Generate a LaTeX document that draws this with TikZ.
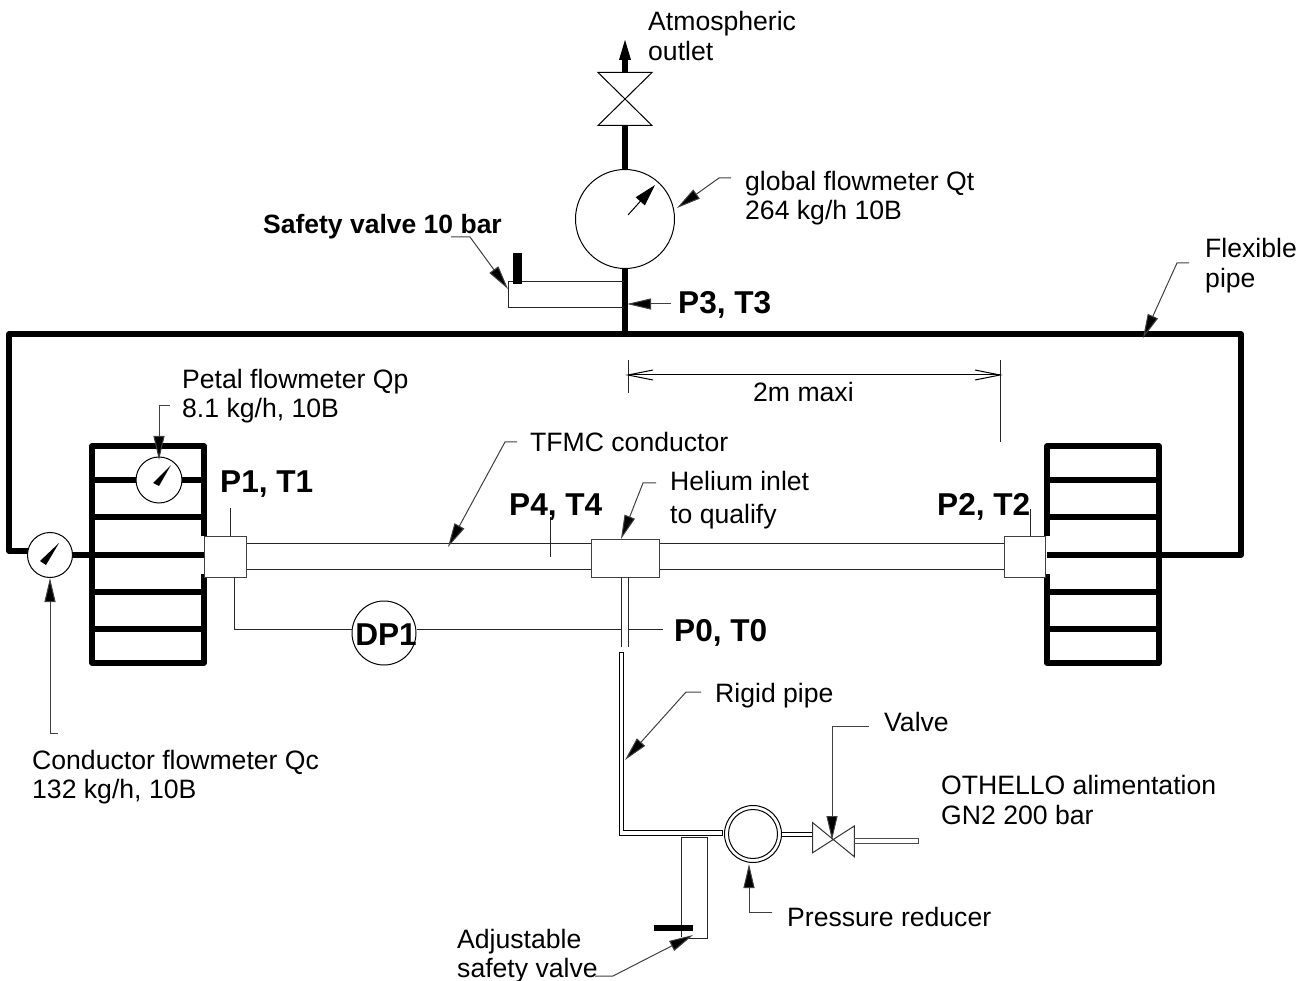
\documentclass[tikz,border=0pt]{standalone}
\usepackage{fontspec}
\setmainfont{Liberation Sans}
\usetikzlibrary{arrows.meta}
\tikzset{
  x=1pt,y=-1pt,
  thin line/.style={line width=1pt,black!85},
  thick pipe/.style={line width=5.4pt,black,line cap=butt,line join=round},
  leader/.style={line width=1pt,black!75,-{Triangle[length=24pt,width=11pt,fill=black]}},
  label/.style={inner sep=0pt,anchor=base west,align=left,yshift=-1pt,font=\fontsize{26.6}{30}\selectfont},
  boldlabel/.style={inner sep=0pt,anchor=base west,yshift=-1pt,font=\fontsize{31.6}{34}\selectfont\bfseries},
  instr/.style={circle,draw,line width=1pt,fill=white,inner sep=0pt,minimum size=#1},
  boxpart/.style={draw,line width=1pt,black!75,fill=white},
  needle/.style={fill=black,draw=none}
}
\begin{document}
\begin{tikzpicture}
\useasboundingbox (0,0) rectangle (1310,981);
% flexible pipe
\coordinate (pTL) at (9,334); \coordinate (pTR) at (1241,334);
\coordinate (pLb) at (9,551); \coordinate (pRb) at (1241,555);
\draw[thick pipe] (28,551) -- (pLb) -- (pTL) -- (pTR) -- (pRb) -- (1160,555);
% petal stacks
\draw[thick pipe] (204,536) -- (204,446) -- (92,446) -- (92,663) -- (204,663) -- (204,574);
\foreach \y in {480,517,555,592,629} \draw[thick pipe] (92,\y) -- (204,\y);
\draw[thick pipe] (72,555) -- (92,555);
\draw[thick pipe] (1047,536) -- (1047,446) -- (1159,446) -- (1159,663) -- (1047,663) -- (1047,574);
\foreach \y in {480,517,555,592,629} \draw[thick pipe] (1047,\y) -- (1159,\y);
% conductor
\draw[thin line] (246,543) -- (1004,543) (246,569) -- (1004,569);
\node[boxpart,minimum width=42pt,minimum height=41pt,inner sep=0pt] (boxL) at (225,556.5) {};
\node[boxpart,minimum width=68pt,minimum height=38pt,inner sep=0pt] (boxM) at (625,558) {};
\node[boxpart,minimum width=41pt,minimum height=41pt,inner sep=0pt] (boxR) at (1024.5,556.5) {};
% stem and DP line
\draw[thin line] (621,577) -- (621,647) (628,577) -- (628,647);
\node[instr=64pt] (dp) at (384,633) {};
\node[boldlabel,anchor=center] (dpt) at (386,634) {DP1};
\draw[thin line] (234,577) -- (234,629) -- (dp.west |- 0,629);
\draw[thin line] (dp.east |- 0,629) -- (621,629) (628,629) -- (663,629);
% ticks
\draw[thin line] (230,508) -- (230,536);
\draw[thin line] (1030,509) -- (1030,536);
\draw[thin line] (550,517) -- (550,557);
% flowmeters
\node[instr=45pt] (fc) at (50,555) {};
\fill[needle] (59,543) -- (40,561) -- (46,565) -- cycle;
\node[instr=46pt] (fp) at (159,480) {};
\fill[needle] (171,465) -- (153,483) -- (159,486) -- cycle;
% top line
\draw[thick pipe] (625,334) -- (625,267);
\draw[thick pipe] (625,170) -- (625,126);
\draw[thick pipe,-{Triangle[length=24pt,width=10pt]}] (625,72) -- (625,36);
\draw[line width=1pt] (598,72.5) -- (652,72.5) -- (598,125.5) -- (652,125.5) -- cycle;
\node[instr=99pt] (fg) at (625,219) {};
\draw[line width=1pt,-{Triangle[length=22pt,width=12pt]}] (628,215) -- (655,185);
% safety valve 10 bar
\draw[thin line] (624,282) -- (508,282) -- (508,308) -- (624,308);
\fill[black] (513,253) rectangle (522,284);
% rigid pipe
\draw[line width=1pt] (619.5,652) -- (619.5,835) -- (722.5,835) -- (722.5,830.5) -- (623,830.5) -- (623,652) -- cycle;
\node[instr=57pt] (pr) at (753,834) {};
\node[instr=49pt] (pri) at (753,834) {};
\draw[line width=1pt] (781,832) -- (813,832) (781,836) -- (813,836);
\draw[line width=1pt,black!80] (812.7,822.7) -- (812.7,852.7) -- (854.3,826) -- (854.3,856.7) -- cycle;
\draw[line width=1pt,black!70] (854,838.5) -- (918,838.5) -- (918,843.5) -- (854,843.5);
% adjustable safety valve
\draw[thin line] (681.7,937) -- (681.7,837) -- (707.3,837) -- (707.3,938) -- (688,938);
\fill[black] (654,924.5) rectangle (693,930.5);
% dimension
\coordinate (d1) at (628,375); \coordinate (d2) at (1000,375);
\draw[thin line] (628,360) -- (628,393);
\draw[thin line] (1000,360) -- (1000,442);
\draw[line width=1pt] (d1) -- (d2);
\draw[line width=1pt] ([shift={(25,-5)}]d1) -- (d1) -- ([shift={(25,5)}]d1);
\draw[line width=1pt] ([shift={(-25,-5)}]d2) -- (d2) -- ([shift={(-25,5)}]d2);
% labels
\node[label] (tAtm) at (648,30) {Atmospheric};
\node[label] at (648,60) {outlet};
\node[label] (tGlob) at (745,190) {global flowmeter Qt};
\node[label] at (745,219) {264 kg/h 10B};
\node[inner sep=0pt,anchor=base west,yshift=-1pt,font=\fontsize{26.5}{30}\selectfont\bfseries] (tSafe) at (263,233) {Safety valve 10 bar};
\node[label] (tFlex) at (1205,257) {Flexible};
\node[label] at (1205,287) {pipe};
\node[boldlabel] (tP3) at (678,313) {P3, T3};
\node[label] (t2m) at (753,401) {2m maxi};
\node[label] (tPetal) at (182,388) {Petal flowmeter Qp};
\node[label] (tPetal2) at (182,417) {8.1 kg/h, 10B};
\node[label] (tTFMC) at (530,451) {TFMC conductor};
\node[label] (tHe) at (670,490) {Helium inlet};
\node[label] at (670,522) {to qualify};
\node[boldlabel] (tP1) at (220,492) {P1, T1};
\node[boldlabel] (tP4) at (509,514) {P4, T4};
\node[boldlabel] (tP2) at (937,514) {P2, T2};
\node[boldlabel] (tP0) at (674,640) {P0, T0};
\node[label] (tRigid) at (715,701) {Rigid pipe};
\node[label] (tValve) at (884,730) {Valve};
\node[label] (tOth) at (941,793) {OTHELLO alimentation};
\node[label] at (941,823) {GN2 200 bar};
\node[label] (tCond) at (32,768) {Conductor flowmeter Qc};
\node[label] at (32,797) {132 kg/h, 10B};
\node[label] (tPres) at (787,925) {Pressure reducer};
\node[label] (tAdj) at (457,947) {Adjustable};
\node[label] at (457,976) {safety valve};
% leaders
\coordinate (lg1) at (731,178); \coordinate (lg2) at (719,178); \coordinate (lgt) at (677,208);
\draw[leader] (lg1) -- (lg2) -- (lgt);
\coordinate (ls1) at (451,237); \coordinate (ls2) at (470,237); \coordinate (lst) at (508,289);
\draw[leader] (ls1) -- (ls2) -- (lst);
\coordinate (l31) at (671,304); \coordinate (l3t) at (627,304);
\draw[leader] (l31) -- (l3t);
\coordinate (lf1) at (1189,263); \coordinate (lf2) at (1177,263); \coordinate (lft) at (1143,338);
\draw[leader] (lf1) -- (lf2) -- (lft);
\coordinate (lp1) at (170,406); \coordinate (lp2) at (159,406); \coordinate (lpt) at (159,460);
\draw[leader] (lp1) -- (lp2) -- (lpt);
\coordinate (lt1) at (517,442); \coordinate (lt2) at (505,442); \coordinate (ltt) at (448,547);
\draw[leader] (lt1) -- (lt2) -- (ltt);
\coordinate (lh1) at (656,483); \coordinate (lh2) at (643,483); \coordinate (lht) at (621,539);
\draw[leader] (lh1) -- (lh2) -- (lht);
\coordinate (lc1) at (58,733); \coordinate (lc2) at (50,733); \coordinate (lct) at (50,578);
\draw[leader] (lc1) -- (lc2) -- (lct);
\coordinate (lr1) at (701,692); \coordinate (lr2) at (686,692); \coordinate (lrt) at (625,760);
\draw[leader] (lr1) -- (lr2) -- (lrt);
\coordinate (lv1) at (869,726); \coordinate (lv2) at (832,726); \coordinate (lvt) at (832,840);
\draw[leader] (lv1) -- (lv2) -- (lvt);
\coordinate (lq1) at (772,912); \coordinate (lq2) at (749,912); \coordinate (lqt) at (749,864);
\draw[leader] (lq1) -- (lq2) -- (lqt);
\coordinate (la1) at (595,976); \coordinate (la2) at (613,976); \coordinate (lat) at (693,935);
\draw[leader] (la1) -- (la2) -- (lat);
\end{tikzpicture}
\end{document}
